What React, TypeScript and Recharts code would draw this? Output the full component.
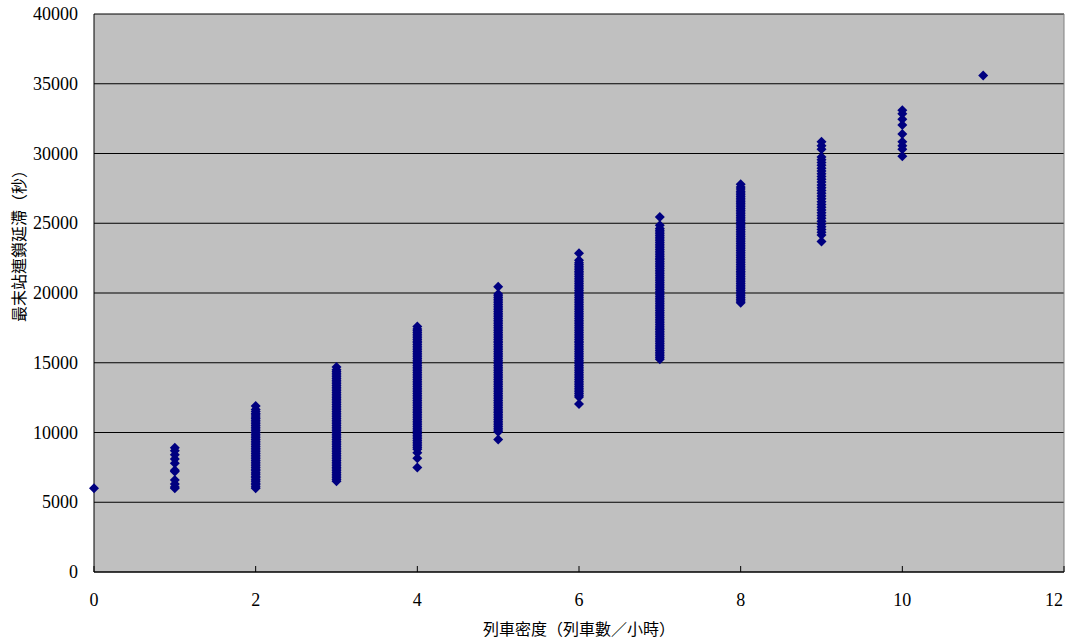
import { ScatterChart, Scatter, XAxis, YAxis, CartesianGrid, ReferenceLine } from 'recharts';

// delay at the last station (sec) for each train density (trains/hour)
const density = [0, 1, 2, 3, 4, 5, 6, 7, 8, 9, 10, 11];

const delay0 = [6000];
const delay1 = [6000, 6100, 6300, 6600, 7200, 7300, 7800, 8100, 8400, 8700, 8900];
const delay2 = [
  6000, 6120, 6250, 6370, 6500, 6620, 6750, 6870, 7000, 7120, 7250, 7370, 7500, 7620, 7750,
  7870, 8000, 8120, 8250, 8370, 8500, 8620, 8750, 8870, 9000, 9120, 9250, 9370, 9500, 9620,
  9750, 9870, 10000, 10120, 10250, 10370, 10500, 10620, 10750, 10870, 11000, 11120, 11250,
  11370, 11500, 11650, 11900,
];
const delay3 = [
  6500, 6625, 6750, 6875, 7000, 7125, 7250, 7375, 7500, 7625, 7750, 7875, 8000, 8125, 8250,
  8375, 8500, 8625, 8750, 8875, 9000, 9125, 9250, 9375, 9500, 9625, 9750, 9875, 10000, 10125,
  10250, 10375, 10500, 10625, 10750, 10875, 11000, 11125, 11250, 11375, 11500, 11625, 11750,
  11875, 12000, 12125, 12250, 12375, 12500, 12625, 12750, 12875, 13000, 13125, 13250, 13375,
  13500, 13625, 13750, 13875, 14000, 14125, 14250, 14375, 14500, 14700,
];
const delay4 = [
  7500, 8150, 8550, 8800, 8925, 9050, 9175, 9300, 9425, 9550, 9675, 9800, 9925, 10050, 10175,
  10300, 10425, 10550, 10675, 10800, 10925, 11050, 11175, 11300, 11425, 11550, 11675, 11800,
  11925, 12050, 12175, 12300, 12425, 12550, 12675, 12800, 12925, 13050, 13175, 13300, 13425,
  13550, 13675, 13800, 13925, 14050, 14175, 14300, 14425, 14550, 14675, 14800, 14925, 15050,
  15175, 15300, 15425, 15550, 15675, 15800, 15925, 16050, 16175, 16300, 16425, 16550, 16675,
  16800, 16925, 17050, 17175, 17300, 17425, 17600,
];
const delay5 = [
  9500, 10050, 10175, 10300, 10425, 10550, 10675, 10800, 10925, 11050, 11175, 11300, 11425,
  11550, 11675, 11800, 11925, 12050, 12175, 12300, 12425, 12550, 12675, 12800, 12925, 13050,
  13175, 13300, 13425, 13550, 13675, 13800, 13925, 14050, 14175, 14300, 14425, 14550, 14675,
  14800, 14925, 15050, 15175, 15300, 15425, 15550, 15675, 15800, 15925, 16050, 16175, 16300,
  16425, 16550, 16675, 16800, 16925, 17050, 17175, 17300, 17425, 17550, 17675, 17800, 17925,
  18050, 18175, 18300, 18425, 18550, 18675, 18800, 18925, 19050, 19175, 19300, 19425, 19550,
  19675, 19800, 19925, 20450,
];
const delay6 = [
  12050, 12550, 12675, 12800, 12925, 13050, 13175, 13300, 13425, 13550, 13675, 13800, 13925,
  14050, 14175, 14300, 14425, 14550, 14675, 14800, 14925, 15050, 15175, 15300, 15425, 15550,
  15675, 15800, 15925, 16050, 16175, 16300, 16425, 16550, 16675, 16800, 16925, 17050, 17175,
  17300, 17425, 17550, 17675, 17800, 17925, 18050, 18175, 18300, 18425, 18550, 18675, 18800,
  18925, 19050, 19175, 19300, 19425, 19550, 19675, 19800, 19925, 20050, 20175, 20300, 20425,
  20550, 20675, 20800, 20925, 21050, 21175, 21300, 21425, 21550, 21675, 21800, 21925, 22050,
  22175, 22350, 22850,
];
const delay7 = [
  15250, 15375, 15500, 15625, 15750, 15875, 16000, 16125, 16250, 16375, 16500, 16625, 16750,
  16875, 17000, 17125, 17250, 17375, 17500, 17625, 17750, 17875, 18000, 18125, 18250, 18375,
  18500, 18625, 18750, 18875, 19000, 19125, 19250, 19375, 19500, 19625, 19750, 19875, 20000,
  20125, 20250, 20375, 20500, 20625, 20750, 20875, 21000, 21125, 21250, 21375, 21500, 21625,
  21750, 21875, 22000, 22125, 22250, 22375, 22500, 22625, 22750, 22875, 23000, 23125, 23250,
  23375, 23500, 23625, 23750, 23875, 24000, 24125, 24250, 24375, 24500, 24625, 24850, 25450,
];
const delay8 = [
  19300, 19425, 19550, 19675, 19800, 19925, 20050, 20175, 20300, 20425, 20550, 20675, 20800,
  20925, 21050, 21175, 21300, 21425, 21550, 21675, 21800, 21925, 22050, 22175, 22300, 22425,
  22550, 22675, 22800, 22925, 23050, 23175, 23300, 23425, 23550, 23675, 23800, 23925, 24050,
  24175, 24300, 24425, 24550, 24675, 24800, 24925, 25050, 25175, 25300, 25425, 25550, 25675,
  25800, 25925, 26050, 26175, 26300, 26425, 26550, 26675, 26800, 26925, 27050, 27175, 27300,
  27450, 27600, 27800,
];
const delay9 = [
  23700, 24150, 24350, 24550, 24750, 24950, 25150, 25350, 25550, 25750, 25950, 26150, 26350,
  26550, 26750, 26950, 27150, 27350, 27550, 27750, 27950, 28150, 28350, 28550, 28750, 28950,
  29150, 29350, 29550, 29750, 30300, 30550, 30850,
];
const delay10 = [29800, 30300, 30550, 30850, 31400, 32050, 32450, 32850, 33100];
const delay11 = [35600];

const xTicks = [0, 2, 4, 6, 8, 10, 12];
const yTicks = [0, 5000, 10000, 15000, 20000, 25000, 30000, 35000, 40000];

const columns = [delay0, delay1, delay2, delay3, delay4, delay5, delay6, delay7, delay8, delay9, delay10, delay11];
const points = columns.flatMap((ys, i) => ys.map((y) => ({ x: density[i], y })));

const NUM_FONT = '"Liberation Serif", "Times New Roman", serif';
const CJK_FONT = '"Noto Sans CJK TC", "Noto Sans CJK SC", sans-serif';

const Diamond = (props: any) => {
  const { cx, cy } = props;
  const r = 5;
  return <path d={`M${cx},${cy - r}L${cx + r},${cy}L${cx},${cy + r}L${cx - r},${cy}Z`} fill="#000080" />;
};

const XTick = (props: any) => {
  const { x, y, payload } = props;
  const last = payload.value === 12;
  return (
    <g>
      <line x1={x} x2={x} y1={y} y2={y - 6} stroke="#000" />
      <text
        x={last ? x - 1 : x}
        y={y + 34}
        textAnchor={last ? 'end' : 'middle'}
        fontFamily={NUM_FONT}
        fontSize={18}
        fill="#000"
      >
        {payload.value}
      </text>
    </g>
  );
};

const YTick = (props: any) => {
  const { x, y, payload } = props;
  return (
    <text x={x} y={y + 6} textAnchor="end" fontFamily={NUM_FONT} fontSize={18} fill="#000">
      {payload.value}
    </text>
  );
};

export default function App() {
  return (
    <div style={{ position: 'absolute', left: 0, top: 0, width: 1076, height: 640, background: '#fff' }}>
      <ScatterChart width={1076} height={640} margin={{ top: 14, right: 12, bottom: 0, left: 0 }}>
        <CartesianGrid vertical={false} stroke="#000" fill="#C0C0C0" fillOpacity={1} />
        <XAxis
          type="number"
          dataKey="x"
          domain={[0, 12]}
          ticks={xTicks}
          height={68}
          stroke="#000"
          tickLine={false}
          tickSize={0}
          tickMargin={0}
          tick={<XTick />}
          label={{
            value: '列車密度（列車數／小時）',
            position: 'insideBottom',
            offset: 5,
            fill: '#000',
            fontSize: 16,
            fontFamily: CJK_FONT,
          }}
        />
        <YAxis
          type="number"
          dataKey="y"
          domain={[0, 40000]}
          ticks={yTicks}
          width={94}
          stroke="#000"
          tickLine={false}
          tickSize={0}
          tickMargin={16}
          tick={<YTick />}
          label={{
            value: '最末站連鎖延滯（秒）',
            content: () => (
              <text
                x={18}
                y={242}
                transform="rotate(-90 18 242)"
                textAnchor="middle"
                dominantBaseline="central"
                fontFamily={CJK_FONT}
                fontSize={16}
                fill="#000"
              >
                最末站連鎖延滯（秒）
              </text>
            ),
          }}
        />
        <ReferenceLine x={12} stroke="#808080" />
        <Scatter data={points} shape={<Diamond />} isAnimationActive={false} />
      </ScatterChart>
    </div>
  );
}
